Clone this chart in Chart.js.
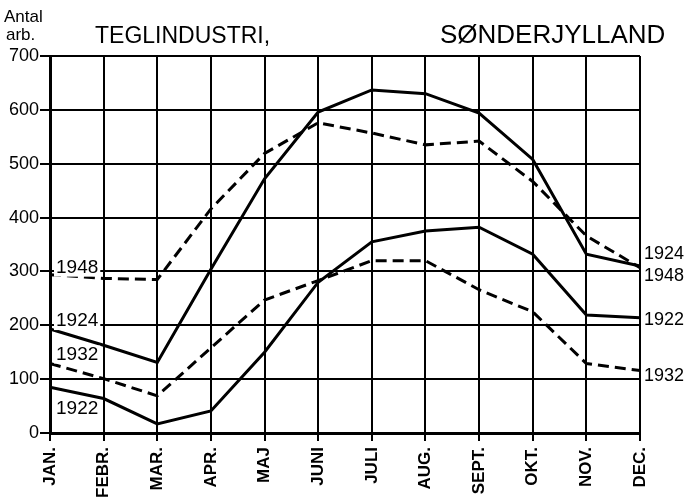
<!DOCTYPE html>
<html>
<head>
<meta charset="utf-8">
<script src="https://cdn.jsdelivr.net/npm/chart.js@4.4.0/dist/chart.umd.min.js"></script>
<style>
  body { margin: 0; background: #fff; }
  #wrap { width: 684px; height: 500px; position: relative; }
</style>
</head>
<body>
<div id="wrap"><canvas id="chart" width="684" height="500"></canvas></div>
<script>
// Data (number of workers per month)
const months = ['JAN.', 'FEBR.', 'MAR.', 'APR.', 'MAJ', 'JUNI', 'JULI', 'AUG.', 'SEPT.', 'OKT.', 'NOV.', 'DEC.'];
const yTicks = [0, 100, 200, 300, 400, 500, 600, 700];
const y1922 = [85, 64, 17, 41, 150, 280, 355, 375, 382, 332, 219, 214];
const y1924 = [193, 163, 131, 304, 472, 596, 637, 630, 594, 508, 332, 310];
const y1932 = [129, 101, 69, 158, 247, 283, 320, 320, 266, 225, 129, 116];
const y1948 = [294, 287, 285, 416, 519, 576, 557, 535, 542, 467, 366, 307];

const FONT = "'Liberation Sans', Arial, sans-serif";

// where the year labels sit next to the line ends (pixel offsets)
const endLabels = {
    '1922': { left: [6, 22], right: [4, 2] },
    '1924': { left: [6, -8], right: [4, -12] },
    '1932': { left: [6, -9], right: [4, 6] },
    '1948': { left: [6, -7], right: [4, 8] }
};

const labelPlugin = {
    id: 'labels',
    afterDatasetsDraw(chart) {
        const ctx = chart.ctx;
        const xs = chart.scales.x, ys = chart.scales.y;
        ctx.save();
        ctx.textBaseline = 'middle';
        chart.data.datasets.forEach(ds => {
            const off = endLabels[ds.label];
            const last = ds.data.length - 1;
            // left label, with white box so the grid is broken behind it
            ctx.font = '19px ' + FONT;
            const lx = xs.getPixelForValue(0) + off.left[0];
            const ly = ys.getPixelForValue(ds.data[0]) + off.left[1];
            const w = ctx.measureText(ds.label).width;
            ctx.fillStyle = '#fff';
            ctx.fillRect(lx - 2, ly - 9, w + 4, 18);
            ctx.fillStyle = '#000';
            ctx.textAlign = 'left';
            ctx.fillText(ds.label, lx, ly);
            // right label outside the plot
            ctx.font = '18px ' + FONT;
            const rx = xs.getPixelForValue(last) + off.right[0];
            const ry = ys.getPixelForValue(ds.data[last]) + off.right[1];
            ctx.fillText(ds.label, rx, ry);
        });
        // titles
        ctx.textBaseline = 'alphabetic';
        ctx.textAlign = 'left';
        ctx.font = '17px ' + FONT;
        ctx.fillText('Antal', 4, 22);
        ctx.fillText('arb.', 6, 40);
        ctx.font = '23px ' + FONT;
        ctx.fillText('TEGLINDUSTRI,', 95, 43);
        ctx.font = '26px ' + FONT;
        ctx.fillText('SØNDERJYLLAND', 440, 43);
        ctx.restore();
    }
};

function line(label, data, dashed) {
    return {
        label: label,
        data: data,
        borderColor: '#000',
        borderWidth: 3,
        borderDash: dashed ? [11, 6] : [],
        pointRadius: 0,
        tension: 0,
        fill: false
    };
}

new Chart(document.getElementById('chart'), {
    type: 'line',
    data: {
        labels: months,
        datasets: [
            line('1922', y1922, false),
            line('1924', y1924, false),
            line('1932', y1932, true),
            line('1948', y1948, true)
        ]
    },
    options: {
        responsive: false,
        animation: false,
        layout: { padding: { top: 56, right: 44, left: 0, bottom: 0 } },
        plugins: { legend: { display: false }, tooltip: { enabled: false } },
        scales: {
            x: {
                offset: false,
                afterFit: s => { s.height = 67; },
                grid: { color: '#000', lineWidth: 2, tickLength: 8 },
                border: { color: '#000', width: 3 },
                ticks: {
                    color: '#000',
                    font: { family: FONT, size: 17, weight: 'bold' },
                    minRotation: 90, maxRotation: 90,
                    autoSkip: false, padding: 6
                }
            },
            y: {
                min: 0, max: 700,
                afterFit: s => { s.width = 50; },
                afterBuildTicks: s => { s.ticks = yTicks.map(v => ({ value: v })); },
                grid: { color: '#000', lineWidth: 2, tickLength: 10 },
                border: { color: '#000', width: 3 },
                ticks: {
                    color: '#000',
                    font: { family: FONT, size: 18 },
                    padding: 1
                }
            }
        }
    },
    plugins: [labelPlugin]
});
</script>
</body>
</html>
